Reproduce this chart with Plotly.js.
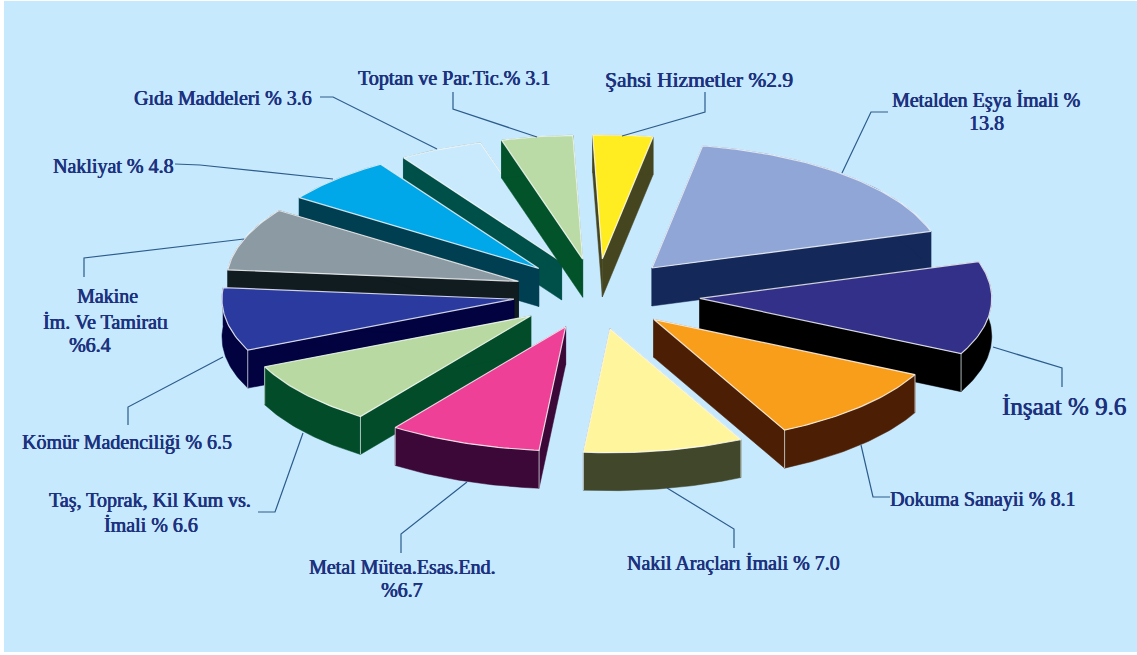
<!DOCTYPE html>
<html>
<head>
<meta charset="utf-8">
<script src="https://cdn.plot.ly/plotly-3.0.1.min.js"></script>
<style>html,body{margin:0;padding:0;background:#fff}#chart{width:1137px;height:655px}</style>
</head>
<body>
<div id="chart"></div>
<script>
// Sector shares, clockwise from the top of the pie
const sectors = ['Şahsi Hizmetler', 'Metalden Eşya İmali', 'İnşaat', 'Dokuma Sanayii', 'Nakil Araçları İmali',
  'Metal Mütea.Esas.End.', 'Taş, Toprak, Kil Kum vs. İmali', 'Kömür Madenciliği', 'Makine İm. Ve Tamiratı',
  'Nakliyat', 'Gıda Maddeleri', 'Toptan ve Par.Tic.'];
const shares = [2.9, 13.8, 9.6, 8.1, 7.0, 6.7, 6.6, 6.5, 6.4, 4.8, 3.6, 3.1];

const topColors = ['#ffec21', '#8fa6d6', '#33308a', '#f99e1a', '#fff59c', '#ee4097',
  '#b8d9a2', '#2a3a9e', '#8c9aa3', '#00a8ea', '#c9eafd', '#bbdba6'];
const wallColors = ['#45451f', '#14295a', '#000000', '#4c1f05', '#41472a', '#3b0838',
  '#024c2a', '#01023f', '#111c20', '#003f52', '#00504a', '#02532a'];

// How far each wedge is pulled out, as a fraction of the radius
const explode = [0.284, 0.284, 0.357, 0.284, 0.284, 0.284, 0.284, 0.284, 0.284, 0.284, 0.284, 0.284];
// Painter's order, far wedges first
const drawOrder = [10, 11, 0, 1, 9, 8, 2, 7, 6, 3, 4, 5];

// Tilted pie geometry in the pixel-sized axes
const pie = {cx: 596, cy: 294, a: 292, b: 124, depth: 38, startDeg: -3.2};

// Label text: {v} takes the value of the wedge it belongs to
const labels = [
  {i: 0, t: 'Şahsi Hizmetler %{v}', x: 699, y: 80, size: 21.5},
  {i: 1, t: 'Metalden Eşya İmali %', x: 986, y: 100},
  {i: 1, t: '{v}', x: 986, y: 123},
  {i: 2, t: 'İnşaat % {v}', x: 1064, y: 406, size: 25},
  {i: 3, t: 'Dokuma Sanayii % {v}', x: 983, y: 499},
  {i: 4, t: 'Nakil Araçları İmali % {v}', x: 733, y: 563},
  {i: 5, t: 'Metal Mütea.Esas.End.', x: 402, y: 567},
  {i: 5, t: '%{v}', x: 402, y: 590},
  {i: 6, t: 'Taş, Toprak, Kil Kum vs.', x: 150, y: 500},
  {i: 6, t: 'İmali % {v}', x: 151, y: 525},
  {i: 7, t: 'Kömür Madenciliği % {v}', x: 127, y: 442},
  {i: 8, t: 'Makine', x: 107, y: 296},
  {i: 8, t: 'İm. Ve Tamiratı', x: 106, y: 322},
  {i: 8, t: '%{v}', x: 90, y: 345},
  {i: 9, t: 'Nakliyat % {v}', x: 113, y: 166},
  {i: 10, t: 'Gıda Maddeleri % {v}', x: 223, y: 98},
  {i: 11, t: 'Toptan ve Par.Tic.% {v}', x: 454, y: 78}
];

// Leader lines from each label to its wedge
const leaders = [
  [[705, 92], [705, 112], [622, 136]],
  [[888, 112], [871, 112], [842, 173]],
  [[993, 347], [1062, 368], [1062, 387]],
  [[861, 445], [873, 497], [890, 497]],
  [[667, 488], [734, 529], [734, 548]],
  [[401, 553], [401, 534], [467, 482]],
  [[258, 512], [275, 512], [303, 433]],
  [[128, 425], [128, 407], [223, 357]],
  [[84, 277], [84, 258], [244, 239]],
  [[175, 164], [200, 165], [333, 179]],
  [[320, 97], [333, 97], [437, 149]],
  [[453, 92], [453, 109], [537, 137]]
];

const total = shares.reduce((s, v) => s + v, 0);
const rad = d => d * Math.PI / 180;
const traces = [];

// Foreshortening of the far left quarter of the pie, in degrees
function farSkew(th) {
  const t = ((th + 180) % 360 + 360) % 360 - 180;
  if (t > 10 || t < -90) return 0;
  const c = Math.cos(rad(t));
  return 1.3 * c * c * (t > 0 ? 1 - t / 10 : 1);
}

// Screen position of a rim point at angle th (clockwise from the top)
const rim = (th, f) => {
  const s = th + farSkew(th);
  return [f * pie.a * Math.sin(rad(s)), -f * pie.b * Math.cos(rad(s))];
};

let angle = pie.startDeg;
const wedges = shares.map((v, i) => {
  const sweep = v / total * 360, start = angle, end = angle + sweep;
  angle = end;
  const mid = (start + end) / 2 + 1;
  const off = [explode[i] * pie.a * Math.sin(rad(mid)), -explode[i] * pie.b * Math.cos(rad(mid))];
  const apex = [pie.cx + off[0], pie.cy + off[1]];
  const steps = Math.max(4, Math.round(sweep));
  const arc = [];
  for (let k = 0; k <= steps; k++) {
    const p = rim(start + sweep * k / steps, 1);
    arc.push([apex[0] + p[0], apex[1] + p[1]]);
  }
  return {apex, arc};
});

function poly(points, fill, lineColor, lineWidth) {
  traces.push({
    type: 'scatter', mode: 'lines', hoverinfo: 'skip', showlegend: false,
    x: points.map(p => p[0]).concat(points[0][0]),
    y: points.map(p => p[1]).concat(points[0][1]),
    fill: 'toself', fillcolor: fill,
    line: {color: lineColor, width: lineWidth}
  });
}

const down = p => [p[0], p[1] + pie.depth];
drawOrder.forEach(i => {
  const {apex, arc} = wedges[i];
  const first = arc[0], last = arc[arc.length - 1];
  const wall = wallColors[i];
  // side walls and rim band
  poly([apex, first, down(first), down(apex)], wall, wall, 0.5);
  poly([apex, last, down(last), down(apex)], wall, wall, 0.5);
  poly(arc.concat(arc.slice().reverse().map(down)), wall, wall, 0.5);
  // corner edge at the front of the wedge
  [first, last].forEach(c => {
    if (c[1] > pie.cy) traces.push({
      type: 'scatter', mode: 'lines', hoverinfo: 'skip', showlegend: false,
      x: [c[0], c[0]], y: [c[1], c[1] + pie.depth],
      line: {color: 'rgba(225,235,235,0.75)', width: 1}
    });
  });
  // top face
  poly([apex].concat(arc), topColors[i], 'rgba(255,255,255,0.8)', 1.2);
});

leaders.forEach(l => traces.push({
  type: 'scatter', mode: 'lines', hoverinfo: 'skip', showlegend: false,
  x: l.map(p => p[0]), y: l.map(p => p[1]),
  line: {color: '#2c5c8c', width: 1.2}
}));

const ink = '#1d327e';
const annotations = labels.map(l => ({
  x: l.x, y: l.y, xref: 'x', yref: 'y', showarrow: false,
  xanchor: 'center', yanchor: 'middle',
  text: l.t.replace('{v}', shares[l.i].toFixed(1)),
  font: {family: '"Liberation Serif", serif', size: l.size || 20, color: ink,
    shadow: '0.4px 0 0 ' + ink + ', -0.3px 0 0 ' + ink}
}));

const hidden = {visible: false, fixedrange: true, autorange: false};
Plotly.newPlot('chart', traces, {
  width: 1137, height: 655,
  margin: {l: 0, r: 0, t: 0, b: 0},
  paper_bgcolor: '#ffffff', plot_bgcolor: '#ffffff',
  xaxis: Object.assign({range: [0, 1137]}, hidden),
  yaxis: Object.assign({range: [655, 0]}, hidden),
  showlegend: false,
  annotations,
  shapes: [{type: 'rect', xref: 'x', yref: 'y', x0: 4, x1: 1137, y0: 1, y1: 652,
    fillcolor: '#c6e9fe', line: {width: 0}, layer: 'below'}]
}, {displayModeBar: false, staticPlot: true});
</script>
</body>
</html>
